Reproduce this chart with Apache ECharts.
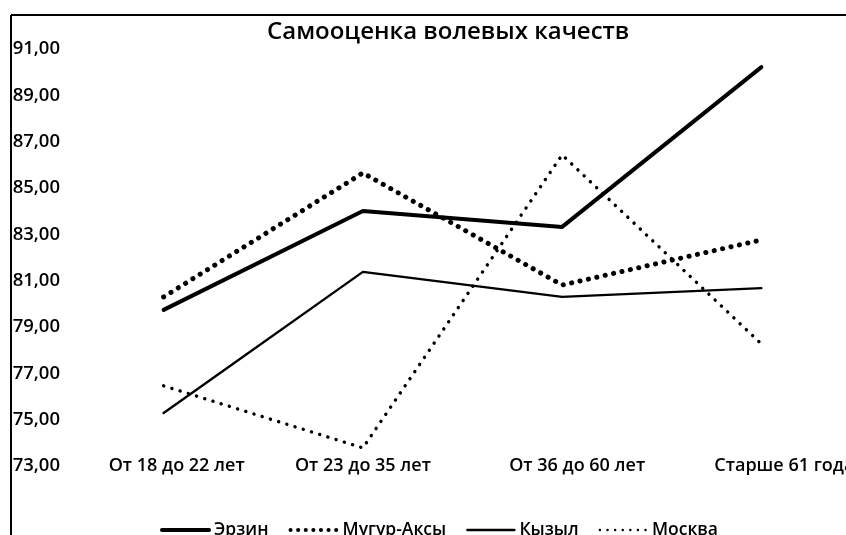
<!DOCTYPE html>
<html>
<head>
<meta charset="utf-8">
<script src="https://cdn.jsdelivr.net/npm/echarts@6/dist/echarts.min.js"></script>
<style>
  html, body { margin: 0; padding: 0; background: #fff; }
  #chart { width: 846px; height: 535px; }
</style>
</head>
<body>
<div id="chart"></div>
<script>
// Age groups along the horizontal axis
const categories = ['От 18 до 22 лет', 'От 23 до 35 лет', 'От 36 до 60 лет', 'Старше 61 года'];

// Self-assessment scores by region
const erzin  = [79.74, 84.01, 83.32, 90.22];
const mugur  = [80.30, 85.65, 80.81, 82.76];
const kyzyl  = [75.29, 81.38, 80.30, 80.68];
const moskva = [76.46, 73.78, 86.43, 78.27];

const seriesNames = ['Эрзин', 'Мугур-Аксы', 'Кызыл', 'Москва'];

const FONT = '"Open Sans", "Noto Sans", sans-serif';
const chart = echarts.init(document.getElementById('chart'));

// line widths and dot pattern per series
const widths = [4, 5, 2.4, 3.4];
const dotted = [false, true, false, true];
const DOTS = [0.1, 8.5];

function lineSeries(i, data) {
  return {
    name: seriesNames[i],
    type: 'line',
    data: data,
    symbol: 'none',
    showSymbol: false,
    smooth: false,
    lineStyle: {
      color: '#000',
      width: widths[i],
      type: dotted[i] ? DOTS : 'solid',
      cap: 'round',
      join: 'round'
    },
    itemStyle: { color: '#000' },
    emphasis: { disabled: true }
  };
}

// horizontal nudge of each category label (left padding, px)
const labelPad = [26, 0, 30, 46];

chart.setOption({
  animation: false,
  backgroundColor: '#fff',
  title: {
    text: 'Самооценка волевых качеств',
    left: 262,
    top: 15,
    textStyle: { fontFamily: FONT, fontSize: 24, fontWeight: 600, color: '#000' }
  },
  legend: {
    data: seriesNames.map((n, i) => ({
      name: n,
      lineStyle: { width: dotted[i] ? widths[i] - 1 : widths[i], type: dotted[i] ? [0.1, 7.5] : 'solid', cap: 'round' }
    })),
    left: 155,
    top: 516,
    itemWidth: 47,
    itemHeight: 12,
    itemGap: 20,
    itemStyle: { opacity: 0 },
    textStyle: { fontFamily: FONT, fontSize: 17.5, fontWeight: 600, color: '#000' }
  },
  grid: {
    left: 64,
    right: -15,
    top: 49,
    bottom: 69,
    containLabel: false,
    outerBoundsMode: 'none'
  },
  xAxis: {
    type: 'category',
    data: categories,
    boundaryGap: true,
    axisLine: { show: false },
    axisTick: { show: false },
    splitLine: { show: false },
    axisLabel: {
      margin: -9,
      interval: 0,
      color: '#000',
      fontFamily: FONT,
      fontSize: 18,
      fontWeight: 600,
      formatter: (v, idx) => '{p' + idx + '|' + v + '}',
      rich: Object.fromEntries(labelPad.map((p, i) => ['p' + i, {
        padding: [0, 0, 0, p],
        fontFamily: FONT, fontSize: 18, fontWeight: 600, color: '#000'
      }]))
    }
  },
  yAxis: {
    type: 'value',
    min: 73,
    max: 91,
    interval: 2,
    axisLine: { show: false },
    axisTick: { show: false },
    splitLine: { show: false },
    axisLabel: {
      margin: 4,
      color: '#000',
      fontFamily: FONT,
      fontSize: 18.5,
      fontWeight: 600,
      formatter: v => v.toFixed(2).replace('.', ',')
    }
  },
  graphic: [
    { type: 'line', shape: { x1: 11, y1: 15, x2: 846, y2: 15 }, style: { stroke: '#000', lineWidth: 2 }, silent: true },
    { type: 'line', shape: { x1: 11, y1: 15, x2: 11, y2: 535 }, style: { stroke: '#000', lineWidth: 2 }, silent: true }
  ],
  series: [
    lineSeries(0, erzin),
    lineSeries(1, mugur),
    lineSeries(2, kyzyl),
    lineSeries(3, moskva)
  ]
});
</script>
</body>
</html>
